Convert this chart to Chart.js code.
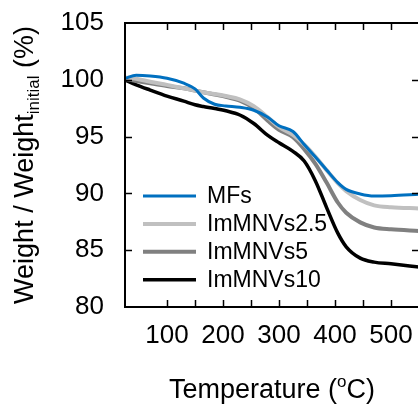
<!DOCTYPE html>
<html lang="en">
<head>
    <meta charset="UTF-8">
    <title>TGA curves</title>
    <script src="https://cdn.jsdelivr.net/npm/chart.js"></script>
    <style>
        html, body { margin: 0; padding: 0; background: #fff; overflow: hidden; }
        #wrap { width: 420px; height: 406px; }
    </style>
</head>
<body>
    <div id="wrap"><canvas id="tga" width="420" height="406"></canvas></div>

    <script>
        // temperature (°C) and weight / weight_initial (%)
        const temperature = [25, 45, 70, 100, 130, 150, 165, 185, 205, 230, 255, 280, 300, 325, 345, 365, 385, 405, 420, 445, 470, 500, 550];
        const mfs        = [100.13, 100.4, 100.33, 100.13, 99.7, 99.2, 98.4, 97.85, 97.7, 97.58, 97.32, 96.7, 95.95, 95.45, 94.3, 93.2, 92.06, 90.95, 90.35, 89.95, 89.77, 89.8, 89.93];
        const imMNVs2_5  = [100.2, 100.1, 99.83, 99.55, 99.25, 99.05, 98.9, 98.75, 98.57, 98.28, 97.68, 96.7, 95.85, 95.15, 94.3, 93.25, 92.05, 90.9, 90.2, 89.42, 88.95, 88.78, 88.68];
        const imMNVs5    = [100.07, 99.9, 99.69, 99.45, 99.25, 99.05, 98.9, 98.7, 98.51, 98.16, 97.5, 96.4, 95.6, 94.95, 93.9, 92.6, 90.95, 89.2, 88.3, 87.45, 87.0, 86.84, 86.7];
        const imMNVs10   = [99.98, 99.56, 99.1, 98.57, 98.12, 97.8, 97.65, 97.48, 97.27, 96.9, 96.15, 95.1, 94.45, 93.7, 92.85, 91.1, 88.75, 86.5, 85.3, 84.3, 83.95, 83.8, 83.52];

        const seriesNames = ['MFs', 'ImMNVs2.5', 'ImMNVs5', 'ImMNVs10'];
        const seriesColors = ['#0070C0', '#C0C0C0', '#808080', '#000000'];
        const seriesWidths = [3, 4, 4, 3.5];
        const xTickLabels = [100, 200, 300, 400, 500];

        const FONT = '"Liberation Sans", Arial, sans-serif';

        function pts(ys) {
            return temperature.map((t, i) => ({ x: t, y: ys[i] }));
        }

        // frame, inward ticks, axis titles and in-plot legend
        const decorations = {
            id: 'decorations',
            afterDraw(chart) {
                const ctx = chart.ctx;
                const a = chart.chartArea;
                const xs = chart.scales.x, ys = chart.scales.y;
                const tl = 7;
                ctx.save();
                ctx.strokeStyle = '#000';
                ctx.lineWidth = 2;
                ctx.strokeRect(a.left, a.top, a.right - a.left, a.bottom - a.top);

                ctx.beginPath();
                xs.ticks.forEach(t => {
                    if (t.value <= xs.min || t.value >= xs.max) return;
                    const px = Math.round(xs.getPixelForValue(t.value)) + 0.5;
                    ctx.moveTo(px, a.bottom); ctx.lineTo(px, a.bottom - tl);
                    ctx.moveTo(px, a.top); ctx.lineTo(px, a.top + tl);
                });
                ys.ticks.forEach(t => {
                    if (t.value <= ys.min || t.value >= ys.max) return;
                    const py = Math.round(ys.getPixelForValue(t.value)) + 0.5;
                    ctx.moveTo(a.left, py); ctx.lineTo(a.left + tl, py);
                    ctx.moveTo(a.right, py); ctx.lineTo(a.right - tl, py);
                });
                ctx.lineWidth = 1.5;
                ctx.stroke();

                // x title with superscript o
                ctx.fillStyle = '#000';
                ctx.textBaseline = 'alphabetic';
                ctx.textAlign = 'left';
                const big = '27px ' + FONT, sup = '17px ' + FONT;
                ctx.font = big;
                const p1 = 'Temperature (', p3 = 'C)';
                const w1 = ctx.measureText(p1).width, w3 = ctx.measureText(p3).width;
                ctx.font = sup;
                const w2 = ctx.measureText('o').width;
                let x0 = 272 - (w1 + w2 + w3) / 2;
                const by = 398;
                ctx.font = big; ctx.fillText(p1, x0, by);
                ctx.font = sup; ctx.fillText('o', x0 + w1, by - 11);
                ctx.font = big; ctx.fillText(p3, x0 + w1 + w2, by);

                // y title with subscript
                ctx.save();
                ctx.translate(33, (a.top + a.bottom) / 2);
                ctx.rotate(-Math.PI / 2);
                const q1 = 'Weight / Weight', q2 = 'initial', q3 = ' (%)';
                ctx.font = big;
                const v1 = ctx.measureText(q1).width, v3 = ctx.measureText(q3).width;
                ctx.font = sup;
                const v2 = ctx.measureText(q2).width;
                let s0 = -(v1 + v2 + v3) / 2;
                ctx.font = big; ctx.fillText(q1, s0, 0);
                ctx.font = sup; ctx.fillText(q2, s0 + v1, 6);
                ctx.font = big; ctx.fillText(q3, s0 + v1 + v2, 0);
                ctx.restore();

                // legend
                ctx.font = '23px ' + FONT;
                ctx.textBaseline = 'middle';
                chart.data.datasets.forEach((ds, i) => {
                    const ly = 196 + i * 27.9;
                    ctx.strokeStyle = ds.borderColor;
                    ctx.lineWidth = ds.borderWidth;
                    ctx.beginPath();
                    ctx.moveTo(143, ly); ctx.lineTo(196, ly);
                    ctx.stroke();
                    ctx.fillStyle = '#000';
                    ctx.fillText(ds.label, 207, ly + 1);
                });
                ctx.restore();
            }
        };

        const ctx = document.getElementById('tga').getContext('2d');
        new Chart(ctx, {
            type: 'line',
            data: {
                datasets: [mfs, imMNVs2_5, imMNVs5, imMNVs10].map((ys, i) => ({
                    label: seriesNames[i],
                    data: pts(ys),
                    borderColor: seriesColors[i],
                    borderWidth: seriesWidths[i],
                    pointRadius: 0,
                    fill: false,
                    cubicInterpolationMode: 'monotone'
                }))
            },
            options: {
                responsive: false,
                animation: false,
                layout: { padding: { top: 23, right: 1, left: 0, bottom: 0 } },
                plugins: { legend: { display: false }, tooltip: { enabled: false } },
                scales: {
                    x: {
                        type: 'linear',
                        min: 25,
                        max: 550,
                        grid: { display: false },
                        border: { display: false },
                        afterFit(s) {
                            s.height = 99;
                            s.paddingLeft = 0;
                            s.paddingRight = 0;
                        },
                        ticks: {
                            stepSize: 50,
                            autoSkip: false,
                            maxRotation: 0,
                            padding: 5,
                            color: '#000',
                            font: { family: FONT, size: 26 },
                            callback: v => xTickLabels.includes(v) ? String(v) : ''
                        }
                    },
                    y: {
                        min: 80,
                        max: 105,
                        grid: { display: false },
                        border: { display: false },
                        afterFit(s) {
                            s.width = 125;
                            s.paddingTop = 0;
                            s.paddingBottom = 0;
                        },
                        ticks: {
                            stepSize: 5,
                            padding: 13,
                            color: '#000',
                            font: { family: FONT, size: 26 }
                        }
                    }
                }
            },
            plugins: [decorations]
        });
    </script>
</body>
</html>
